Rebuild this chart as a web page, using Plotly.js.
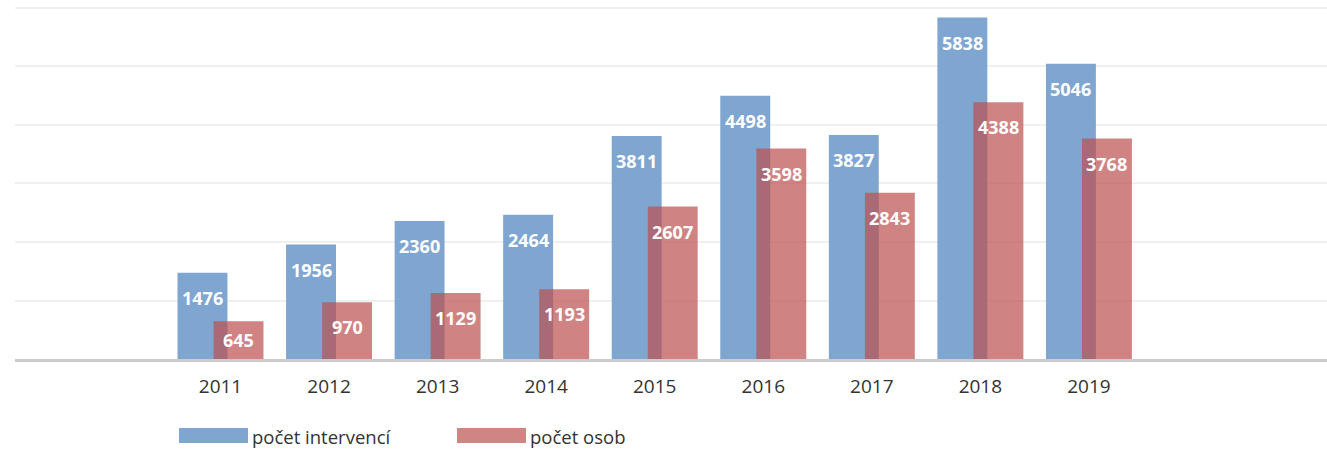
<!DOCTYPE html>
<html>
<head>
<meta charset="utf-8">
<script src="https://cdn.plot.ly/plotly-3.0.1.min.js"></script>
<style>
html,body{margin:0;padding:0;background:#fff;}
#chart{width:1327px;height:452px;}
</style>
</head>
<body>
<div id="chart"></div>
<script>
const years = [2011, 2012, 2013, 2014, 2015, 2016, 2017, 2018, 2019];
const tickLabels = ['2011', '2012', '2013', '2014', '2015', '2016', '2017', '2018', '2019'];
const interventions = [1476, 1956, 2360, 2464, 3811, 4498, 3827, 5838, 5046];
const persons = [645, 970, 1129, 1193, 2607, 3598, 2843, 4388, 3768];
const seriesNames = ['počet intervencí', 'počet osob'];

const FONT = '"Open Sans", "DejaVu Sans", sans-serif';
const BLUE = 'rgb(127,166,208)';
const RED = 'rgba(186,80,78,0.70)';
const W = 0.46, SHIFT = 0.166;

const traces = [
  {type: 'bar', name: seriesNames[0], x: years, y: interventions,
   width: W, offset: -SHIFT - W/2, marker: {color: BLUE, line: {width: 0}},
   hoverinfo: 'x+y', showlegend: false},
  {type: 'bar', name: seriesNames[1], x: years, y: persons,
   width: W, offset: SHIFT - W/2, marker: {color: RED, line: {width: 0}},
   hoverinfo: 'x+y', showlegend: false}
];

const annotations = [];
function labelY(v){ return Math.max(v - 428, v / 2); }
years.forEach((yr, i) => {
  annotations.push({x: yr - SHIFT, y: labelY(interventions[i]), xref: 'x', yref: 'y',
    text: String(interventions[i]), showarrow: false, yanchor: 'middle',
    font: {family: FONT, size: 18, color: '#ffffff', weight: 'bold'}});
  annotations.push({x: yr + SHIFT, y: labelY(persons[i]), xref: 'x', yref: 'y',
    text: String(persons[i]), showarrow: false, yanchor: 'middle',
    font: {family: FONT, size: 18, color: '#ffffff', weight: 'bold'}});
});

// legend drawn as swatches + text (paper coords: plot spans px 15..1327, y 6..359)
function px(x){ return (x - 15) / 1312; }
function py(y){ return (359 - y) / 353; }
const legendItems = [
  {name: seriesNames[0], color: BLUE, x0: 179, x1: 248, tx: 250},
  {name: seriesNames[1], color: 'rgb(207,134,131)', x0: 457, x1: 526, tx: 528}
];
const shapes = [];
legendItems.forEach(it => {
  shapes.push({type: 'rect', xref: 'paper', yref: 'paper',
    x0: px(it.x0), x1: px(it.x1), y0: py(443), y1: py(428),
    fillcolor: it.color, line: {width: 0}});
  annotations.push({xref: 'paper', yref: 'paper', x: px(it.tx), y: py(436),
    xanchor: 'left', yanchor: 'middle', showarrow: false, text: it.name,
    font: {family: FONT, size: 18.5, color: '#333333'}});
});

const layout = {
  width: 1327, height: 452,
  margin: {l: 15, r: 0, t: 6, b: 93},
  paper_bgcolor: '#ffffff', plot_bgcolor: '#ffffff',
  barmode: 'overlay',
  showlegend: false,
  font: {family: FONT, color: '#333333'},
  xaxis: {
    range: [2009.107, 2021.193], tickvals: years, ticktext: tickLabels,
    showgrid: false, zeroline: false, showline: true, linecolor: '#cccccc', linewidth: 3,
    ticks: '', ticklabelstandoff: 8,
    tickfont: {family: FONT, size: 19, color: '#333333'}, fixedrange: true
  },
  yaxis: {
    range: [0, 6034], tickvals: [1000, 2000, 3000, 4000, 5000, 6000], showticklabels: false,
    showgrid: true, gridcolor: '#f0f0f0', gridwidth: 2, zeroline: false, showline: false,
    ticks: '', fixedrange: true
  },
  annotations: annotations,
  shapes: shapes
};

Plotly.newPlot('chart', traces, layout, {displayModeBar: false, staticPlot: true});
</script>
</body>
</html>
